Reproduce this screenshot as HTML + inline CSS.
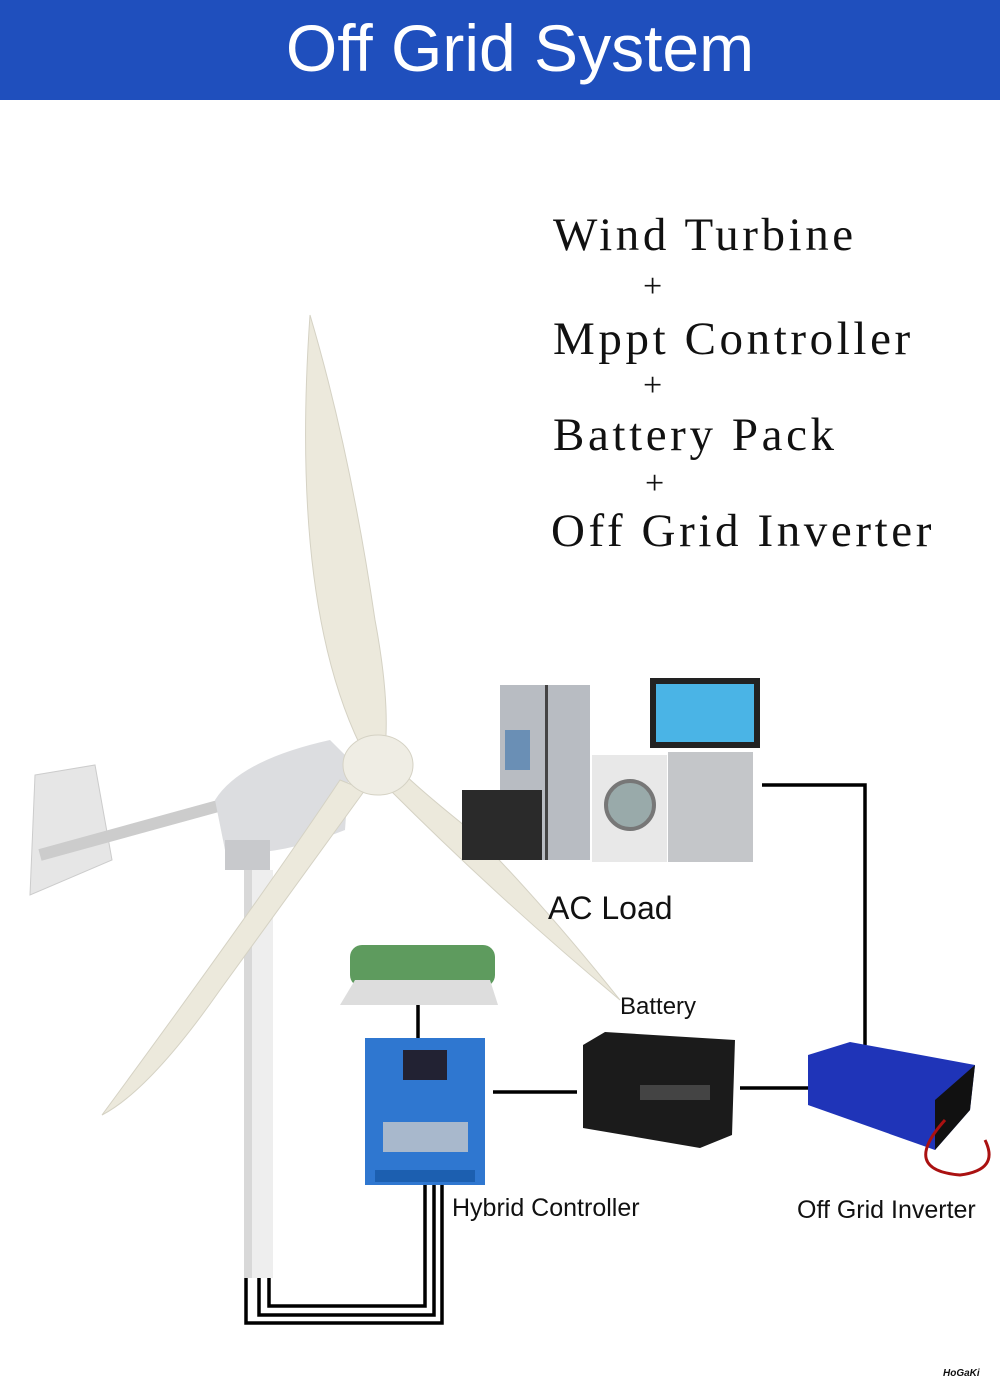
<!DOCTYPE html>
<html><head><meta charset="utf-8"><style>
html,body{margin:0;padding:0;background:#fff}
body{width:1000px;height:1399px;position:relative;overflow:hidden;font-family:"Liberation Sans",sans-serif}
.hdr{position:absolute;left:0;top:0;width:1000px;height:100px;background:#1f4fbd;color:#fff;font-size:66px;text-align:center;line-height:96px;text-indent:40px}
.t{position:absolute;font-family:"Liberation Serif",serif;font-size:47px;color:#111;white-space:nowrap;letter-spacing:3.6px}
.l{position:absolute;color:#111;white-space:nowrap}
</style></head><body>
<div class="hdr">Off Grid System</div>
<div class="t" style="left:553px;top:208px">Wind Turbine</div>
<div class="t" style="left:643px;top:268px;font-size:34px">+</div>
<div class="t" style="left:553px;top:312px">Mppt Controller</div>
<div class="t" style="left:643px;top:367px;font-size:34px">+</div>
<div class="t" style="left:553px;top:408px">Battery Pack</div>
<div class="t" style="left:645px;top:465px;font-size:34px">+</div>
<div class="t" style="left:551px;top:504px">Off Grid Inverter</div>

<svg width="1000" height="1399" style="position:absolute;left:0;top:0">
<g stroke="#000" stroke-width="3.5" fill="none">
<polyline points="762,785 865,785 865,1045"/>
<line x1="493" y1="1092" x2="577" y2="1092"/>
<line x1="740" y1="1088" x2="808" y2="1088"/>
<line x1="418" y1="1005" x2="418" y2="1040"/>
<polyline points="246,1278 246,1323 442,1323 442,1185"/>
<polyline points="259,1278 259,1315 434,1315 434,1185"/>
<polyline points="269,1278 269,1306 425,1306 425,1185"/>
</g>
<rect x="244" y="870" width="29" height="408" fill="#eeeeee"/>
<rect x="244" y="870" width="8" height="408" fill="#d8d8d8"/>
<polygon points="35,775 95,765 112,860 30,895" fill="#e6e6e6" stroke="#ccc"/>
<line x1="40" y1="855" x2="240" y2="800" stroke="#ccc" stroke-width="12"/>
<path d="M215,800 Q240,760 330,740 L350,760 L345,830 Q270,860 225,850 Z" fill="#dcdde0"/>
<rect x="225" y="840" width="45" height="30" fill="#c8c9cc"/>
<path d="M360,745 Q290,600 310,315 Q350,450 375,620 Q390,700 385,750 Z" fill="#ece9dc" stroke="#d5d2c4"/>
<path d="M340,780 Q260,900 102,1115 Q150,1090 220,990 Q300,880 365,790 Z" fill="#ece9dc" stroke="#d5d2c4"/>
<path d="M390,790 Q500,900 620,1000 Q540,900 470,830 Q420,790 400,770 Z" fill="#ece9dc" stroke="#d5d2c4"/>
<ellipse cx="378" cy="765" rx="35" ry="30" fill="#efede4" stroke="#d5d2c4"/>
<rect x="500" y="685" width="90" height="175" fill="#b8bcc2"/>
<rect x="545" y="685" width="3" height="175" fill="#444"/>
<rect x="505" y="730" width="25" height="40" fill="#6a8fb5"/>
<rect x="462" y="790" width="80" height="70" fill="#2a2a2a"/>
<rect x="650" y="678" width="110" height="70" fill="#222"/>
<rect x="656" y="684" width="98" height="58" fill="#4ab4e6"/>
<rect x="592" y="755" width="75" height="107" fill="#e8e8e8"/>
<circle cx="630" cy="805" r="24" fill="#9aa" stroke="#777" stroke-width="4"/>
<rect x="668" y="752" width="85" height="110" fill="#c4c6c9"/>
<rect x="350" y="945" width="145" height="42" rx="12" fill="#5e9b5e"/>
<polygon points="340,1005 355,980 490,980 498,1005" fill="#ddd"/>
<rect x="365" y="1038" width="120" height="147" fill="#2f77d0"/>
<rect x="403" y="1050" width="44" height="30" fill="#223"/>
<rect x="383" y="1122" width="85" height="30" fill="#a8b8cc"/>
<rect x="375" y="1170" width="100" height="12" fill="#1c5fb0"/>
<polygon points="583,1045 605,1032 735,1040 732,1135 700,1148 583,1128" fill="#1b1b1b"/>
<rect x="640" y="1085" width="70" height="15" fill="#444"/>
<polygon points="808,1055 850,1042 975,1065 970,1110 935,1150 808,1105" fill="#1f34b8"/>
<polygon points="935,1150 970,1110 975,1065 935,1100" fill="#111"/>
<path d="M945,1120 Q900,1170 960,1175 Q1000,1170 985,1140" stroke="#a11" stroke-width="3" fill="none"/>
</svg>

<div class="l" style="left:548px;top:890px;font-size:32px">AC Load</div>
<div class="l" style="left:620px;top:993px;font-size:24px">Battery</div>
<div class="l" style="left:452px;top:1194px;font-size:25px">Hybrid Controller</div>
<div class="l" style="left:797px;top:1196px;font-size:25px">Off Grid Inverter</div>
<div class="l" style="left:943px;top:1368px;font-size:10px;font-weight:bold;font-style:italic">HoGaKi</div>
</body></html>
